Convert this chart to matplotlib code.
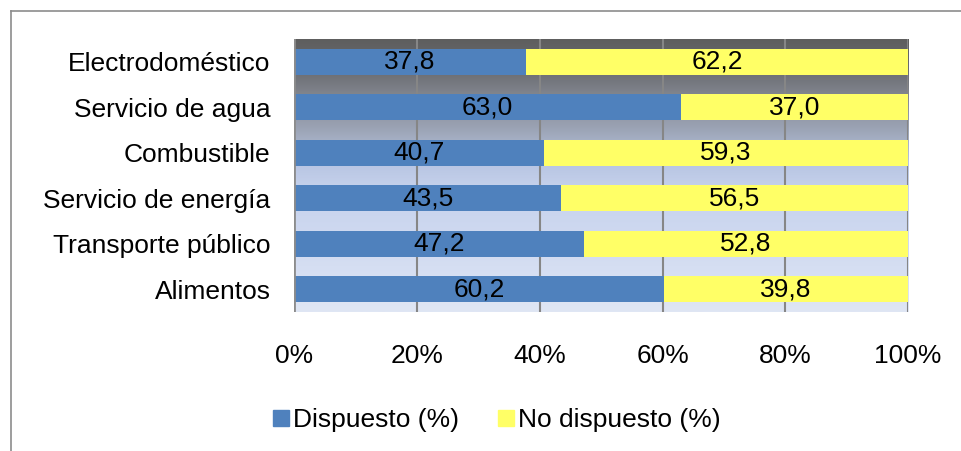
import numpy as np
import matplotlib.pyplot as plt
from matplotlib.colors import LinearSegmentedColormap
from matplotlib.lines import Line2D
from matplotlib.patches import Patch

plt.rcParams['font.family'] = ['Liberation Sans', 'DejaVu Sans']

categorias = ["Electrodoméstico", "Servicio de agua", "Combustible",
              "Servicio de energía", "Transporte público", "Alimentos"]
dispuesto = [37.8, 63.0, 40.7, 43.5, 47.2, 60.2]
no_dispuesto = [62.2, 37.0, 59.3, 56.5, 52.8, 39.8]
ticks = [0, 20, 40, 60, 80, 100]
tick_labels = ["0%", "20%", "40%", "60%", "80%", "100%"]

azul = "#4f81bd"
amarillo = "#ffff66"

fig = plt.figure(figsize=(9.61, 4.51), dpi=100)
ax = fig.add_axes([0.306, 0.308, 0.639, 0.6053])

# fondo degradado (arriba gris oscuro -> abajo azul claro)
cmap = LinearSegmentedColormap.from_list("fondo", [
    (0.0, "#5e5e5e"), (0.12, "#6c6e73"), (0.22, "#868a94"),
    (0.33, "#9ca4b6"), (0.45, "#b7c4e2"), (0.55, "#c6d2ec"),
    (0.75, "#d0daf1"), (1.0, "#dfe6f4")])
grad = np.linspace(0, 1, 256).reshape(-1, 1)
ax.imshow(grad, cmap=cmap, aspect='auto', extent=[0, 1, 0, 1],
          transform=ax.transAxes, zorder=0)

y = np.arange(len(categorias))
ax.barh(y, dispuesto, height=0.57, color=azul, zorder=3, label="Dispuesto (%)")
ax.barh(y, no_dispuesto, left=dispuesto, height=0.57, color=amarillo,
        zorder=3, label="No dispuesto (%)")

for i in range(len(categorias)):
    ax.text(dispuesto[i] / 2, y[i], f"{dispuesto[i]:.1f}".replace(".", ","),
            ha='center', va='center', fontsize=19, zorder=4)
    ax.text(dispuesto[i] + no_dispuesto[i] / 2, y[i],
            f"{no_dispuesto[i]:.1f}".replace(".", ","),
            ha='center', va='center', fontsize=19, zorder=4)

ax.set_xlim(0, 100)
ax.set_ylim(len(categorias) - 0.5, -0.5)
ax.set_yticks(y)
ax.set_yticklabels(categorias, fontsize=19)
ax.set_xticks(ticks)
ax.set_xticklabels(tick_labels, fontsize=19)
ax.tick_params(length=0)
ax.tick_params(axis='y', pad=17)
ax.tick_params(axis='x', pad=23)
for x in ticks[1:]:
    ax.axvline(x, color="#868686", lw=1.5, zorder=1)
for s in ax.spines.values():
    s.set_visible(False)
ax.axvline(0, color="#8c8c8c", lw=2, zorder=5)

handles = [Patch(color=azul), Patch(color=amarillo)]
fig.legend(handles, ["Dispuesto (%)", "No dispuesto (%)"], loc='center',
           bbox_to_anchor=(0.517, 0.068), ncol=2, frameon=False, fontsize=19,
           handlelength=0.6, handleheight=0.6, handletextpad=0.15,
           columnspacing=1.5)

# borde del area del grafico
fig.add_artist(Line2D([10.5 / 961, 1], [1 - 10.5 / 451, 1 - 10.5 / 451],
                      color="#8c8c8c", lw=1.2))
fig.add_artist(Line2D([10.5 / 961, 10.5 / 961], [0, 1 - 10.5 / 451],
                      color="#8c8c8c", lw=1.2))

fig.savefig("out.png", dpi=100)
